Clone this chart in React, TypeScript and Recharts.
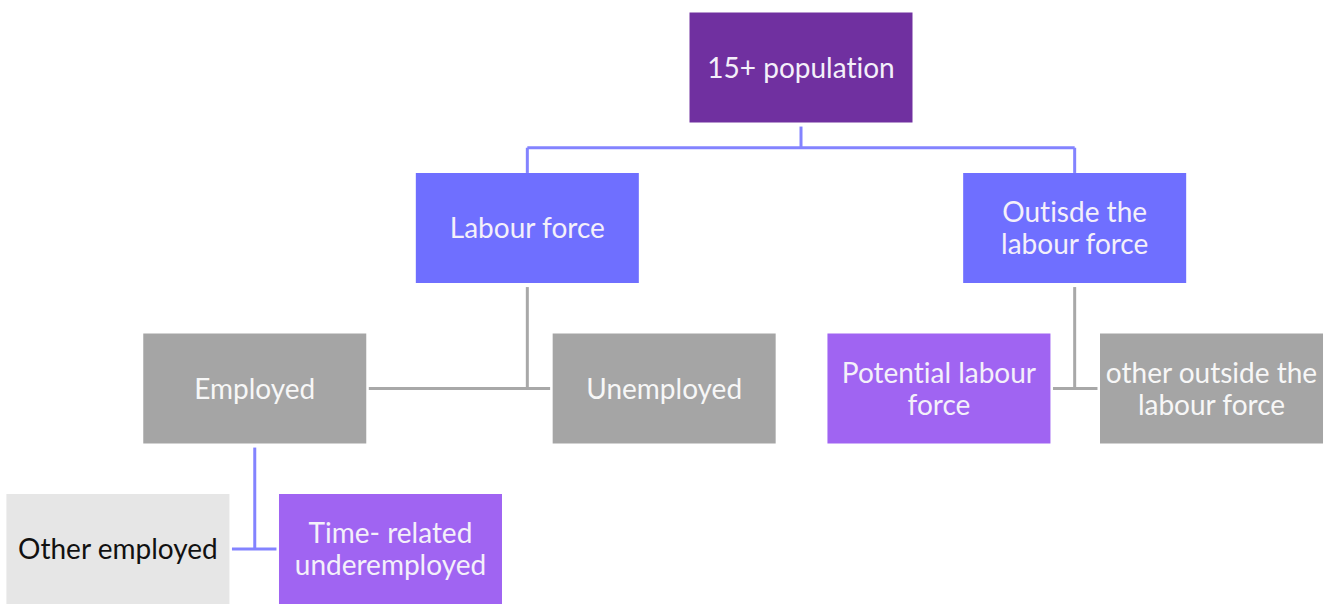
import { ScatterChart, Scatter, XAxis, YAxis, ReferenceLine } from "recharts";

// tree nodes (x in layout units, level = row of the tree)
const NODE_LINES = [
  ["15+ population"],
  ["Labour force"],
  ["Outisde the", "labour force"],
  ["Employed"],
  ["Unemployed"],
  ["Potential labour", "force"],
  ["other outside the", "labour force"],
  ["Other employed"],
  ["Time- related", "underemployed"],
];
const NODE_X = [7.2, 4.74, 9.66, 2.29, 5.97, 8.44, 10.89, 1.06, 3.51];
const NODE_LEVEL = [0, 1, 1, 2, 2, 2, 2, 3, 3];
const NODE_KIND = ["root", "branch", "branch", "gray", "gray", "accent", "gray", "light", "accent"];
const NODE_PARENT = [-1, 0, 0, 1, 1, 2, 2, 3, 3];
// how each parent connects to its children
const LINK_TYPE: Record<number, string> = { 0: "tree", 1: "side", 2: "side", 3: "side" };

const KIND_FILL: Record<string, string> = {
  root: "#7030A0",
  branch: "#6F6FFF",
  gray: "#A5A5A5",
  accent: "#A064F2",
  light: "#E6E6E6",
};
const KIND_TEXT: Record<string, string> = {
  root: "#F4F0FA",
  branch: "#F4F0FA",
  gray: "#F7F7F7",
  accent: "#F4F0FA",
  light: "#111111",
};
const LINK_COLOR: Record<number, string> = { 0: "#8383FF", 1: "#A8A8A8", 2: "#A8A8A8", 3: "#8383FF" };

const W = 1335;
const H = 605;
const BOX_W = 223;
const BOX_H = 110;
const HALF_W = 1; // in x units
const HALF_H = 0.343; // in level units
const GAP = 0.025;

const nodes = NODE_LINES.map((lines, i) => ({
  x: NODE_X[i],
  y: NODE_LEVEL[i],
  lines,
  kind: NODE_KIND[i],
}));

type Seg = { a: { x: number; y: number }; b: { x: number; y: number }; color: string };

function buildLinks(): Seg[] {
  const segs: Seg[] = [];
  Object.keys(LINK_TYPE).forEach((k) => {
    const p = Number(k);
    const kids = NODE_PARENT.map((pp, i) => (pp === p ? i : -1)).filter((i) => i >= 0);
    const px = NODE_X[p];
    const py = NODE_LEVEL[p];
    const color = LINK_COLOR[p];
    const xs = kids.map((i) => NODE_X[i]);
    const left = Math.min(...xs);
    const right = Math.max(...xs);
    if (LINK_TYPE[p] === "tree") {
      const bus = py + 0.5;
      segs.push({ a: { x: px, y: py + HALF_H + GAP }, b: { x: px, y: bus }, color });
      segs.push({ a: { x: left, y: bus }, b: { x: right, y: bus }, color });
      kids.forEach((i) => {
        segs.push({ a: { x: NODE_X[i], y: bus }, b: { x: NODE_X[i], y: NODE_LEVEL[i] - HALF_H }, color });
      });
    } else {
      const cy = NODE_LEVEL[kids[0]];
      segs.push({ a: { x: px, y: py + HALF_H + GAP }, b: { x: px, y: cy }, color });
      segs.push({ a: { x: left + HALF_W + GAP, y: cy }, b: { x: right - HALF_W - GAP, y: cy }, color });
    }
  });
  return segs;
}

const links = buildLinks();

function NodeBox(props: any) {
  const { cx, cy, payload } = props;
  const lines: string[] = payload.lines;
  const lh = 32;
  const y0 = cy - 1 - ((lines.length - 1) * lh) / 2;
  return (
    <g>
      <rect
        x={cx - BOX_W / 2}
        y={cy - BOX_H / 2}
        width={BOX_W}
        height={BOX_H}
        fill={KIND_FILL[payload.kind]}
      />
      {lines.map((t, j) => (
        <text
          key={j}
          x={cx}
          y={y0 + j * lh}
          textAnchor="middle"
          dominantBaseline="central"
          fontFamily="Lato, sans-serif"
          fontSize={28}
          style={{ fontVariantLigatures: "none" }}
          fill={KIND_TEXT[payload.kind]}
        >
          {t}
        </text>
      ))}
    </g>
  );
}

export default function App() {
  const yMin = -67.5 / 160.5;
  const yMax = (H - 67.5) / 160.5;
  return (
    <div style={{ position: "absolute", left: 0, top: 0, background: "#fff" }}>
      <ScatterChart width={W} height={H} margin={{ top: 0, right: 0, bottom: 0, left: 0 }}>
        <XAxis type="number" dataKey="x" domain={[0, W / 111.25]} allowDataOverflow hide />
        <YAxis type="number" dataKey="y" domain={[yMin, yMax]} reversed allowDataOverflow hide />
        {links.map((s, i) => (
          <ReferenceLine
            key={i}
            segment={[s.a, s.b]}
            stroke={s.color}
            strokeWidth={3}
            ifOverflow="visible"
          />
        ))}
        <Scatter data={nodes} shape={NodeBox} isAnimationActive={false} />
      </ScatterChart>
    </div>
  );
}
